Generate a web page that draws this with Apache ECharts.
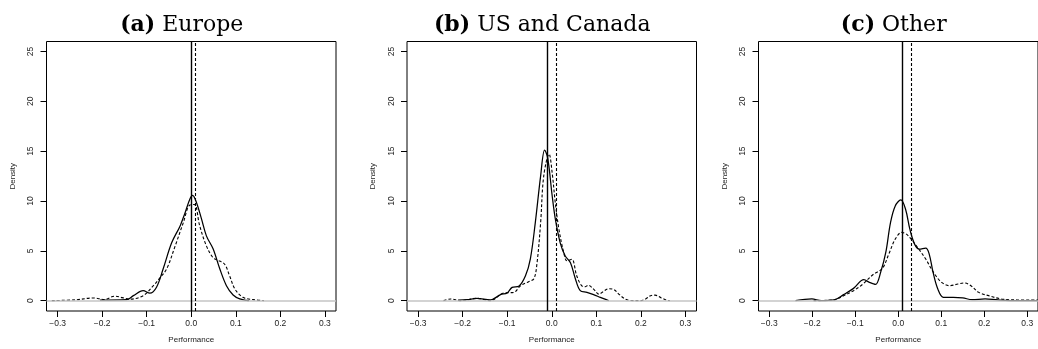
<!DOCTYPE html>
<html>
<head>
    <meta charset="utf-8">
    <title>Performance density</title>
    <script src="https://cdn.jsdelivr.net/npm/echarts@6/dist/echarts.min.js"></script>
    <style>
        html, body { margin: 0; padding: 0; background: #fff; }
        #main { width: 1038px; height: 349px; }
    </style>
</head>
<body>
<div id="main"></div>
<script>
    // tick labels
    var xTicks = [-0.3, -0.2, -0.1, 0.0, 0.1, 0.2, 0.3];
    var yTicks = [0, 5, 10, 15, 20, 25];

    var panelTags = ['(a)', '(b)', '(c)'];
    var panelNames = ['Europe', 'US and Canada', 'Other'];

    // density curves, [performance, density]
    var europeSolid = [[-0.205, 0.05], [-0.145, 0.1], [-0.13, 0.5], [-0.108, 1.0], [-0.093, 0.75], [-0.078, 1.35],
        [-0.063, 3.2], [-0.044, 5.8], [-0.025, 7.5], [-0.014, 8.8], [-0.003, 10.2], [0.003, 10.55], [0.012, 9.8],
        [0.023, 8.2], [0.034, 6.5], [0.049, 5.2], [0.064, 3.2], [0.079, 1.5], [0.094, 0.57], [0.109, 0.17],
        [0.124, 0.03], [0.13, 0.0]];
    var europeDashed = [[-0.313, 0.0], [-0.26, 0.08], [-0.22, 0.27], [-0.195, 0.12], [-0.172, 0.45], [-0.155, 0.3],
        [-0.138, 0.15], [-0.108, 0.5], [-0.085, 1.5], [-0.07, 2.3], [-0.055, 3.2], [-0.036, 5.5], [-0.018, 7.8],
        [-0.003, 9.6], [0.007, 9.65], [0.019, 7.5], [0.034, 5.5], [0.049, 4.3], [0.06, 4.05], [0.075, 3.65],
        [0.086, 2.5], [0.098, 1.17], [0.116, 0.33], [0.139, 0.1], [0.163, 0.0]];

    var usSolid = [[-0.21, 0.05], [-0.19, 0.1], [-0.168, 0.23], [-0.138, 0.07], [-0.115, 0.6], [-0.1, 0.77],
        [-0.089, 1.33], [-0.074, 1.45], [-0.059, 2.5], [-0.048, 4.2], [-0.037, 7.8], [-0.025, 12.5], [-0.016, 15.1],
        [-0.009, 14.3], [0.001, 10.5], [0.008, 8.2], [0.019, 5.8], [0.03, 4.5], [0.042, 3.8], [0.053, 2.2],
        [0.064, 1.0], [0.079, 0.83], [0.094, 0.6], [0.109, 0.33], [0.124, 0.07], [0.128, 0.0]];
    var usDashed = [[-0.243, 0.0], [-0.227, 0.17], [-0.205, 0.0], [-0.168, 0.23], [-0.138, 0.0], [-0.108, 0.77],
        [-0.085, 0.83], [-0.07, 1.5], [-0.052, 1.9], [-0.04, 2.2], [-0.033, 3.8], [-0.025, 7.8], [-0.018, 12.5],
        [-0.006, 14.7], [0.001, 12.8], [0.008, 9.8], [0.016, 7.2], [0.027, 4.8], [0.034, 4.0], [0.045, 4.15],
        [0.056, 2.5], [0.067, 1.5], [0.075, 1.4], [0.082, 1.55], [0.095, 1.1], [0.106, 0.65], [0.115, 0.9],
        [0.128, 1.2], [0.14, 1.1], [0.152, 0.6], [0.165, 0.15], [0.175, 0.02], [0.2, 0.0], [0.21, 0.15],
        [0.222, 0.5], [0.232, 0.55], [0.245, 0.3], [0.258, 0.05], [0.265, 0.0]];

    var otherSolid = [[-0.239, 0.0], [-0.201, 0.17], [-0.179, 0.0], [-0.149, 0.07], [-0.127, 0.6], [-0.104, 1.23],
        [-0.08, 2.1], [-0.067, 1.83], [-0.053, 1.63], [-0.041, 2.83], [-0.029, 4.83], [-0.018, 7.83], [-0.007, 9.5],
        [0.006, 10.1], [0.017, 9.17], [0.027, 7.17], [0.038, 5.67], [0.049, 5.17], [0.064, 5.27], [0.072, 4.67],
        [0.081, 2.83], [0.092, 1.17], [0.105, 0.33], [0.128, 0.33], [0.15, 0.27], [0.172, 0.1], [0.202, 0.17],
        [0.232, 0.07], [0.277, 0.0], [0.33, 0.0]];
    var otherDashed = [[-0.197, 0.0], [-0.149, 0.07], [-0.127, 0.5], [-0.104, 1.0], [-0.082, 1.67], [-0.059, 2.6],
        [-0.037, 3.23], [-0.022, 4.67], [-0.007, 6.17], [0.008, 6.85], [0.019, 6.67], [0.03, 6.17], [0.045, 5.33],
        [0.064, 4.17], [0.082, 2.83], [0.101, 1.83], [0.12, 1.5], [0.139, 1.67], [0.154, 1.77], [0.169, 1.5],
        [0.187, 0.83], [0.21, 0.5], [0.24, 0.17], [0.277, 0.07], [0.33, 0.05]];

    // vertical reference lines [solid, dashed]
    var europeLines = [-0.0005, 0.005];
    var usLines = [-0.014, 0.007];
    var otherLines = [0.013, 0.031];

    var solids = [europeSolid, usSolid, otherSolid];
    var dasheds = [europeDashed, usDashed, otherDashed];
    var vlines = [europeLines, usLines, otherLines];

    var gridLefts = [46.5, 407, 758.5];
    var gridWidth = 289.5;
    var labelFont = 'Liberation Sans';

    var grids = [], xAxes = [], yAxes = [], series = [], graphics = [];

    function fmtX(v) {
        return (v < 0 ? '\u2212' : '') + Math.abs(v).toFixed(1);
    }

    for (var i = 0; i < 3; i++) {
        grids.push({
            left: gridLefts[i], top: 41.5, width: gridWidth, height: 270.5,
            show: true, borderColor: '#000', borderWidth: 1, backgroundColor: 'transparent'
        });
        xAxes.push({
            type: 'value', gridIndex: i, min: -0.325, max: 0.325, position: 'bottom',
            name: 'Performance', nameLocation: 'middle', nameGap: 25,
            nameTextStyle: {fontFamily: labelFont, fontSize: 8, color: '#222'},
            axisLine: {show: false, onZero: false},
            splitLine: {show: false},
            axisTick: {show: true, inside: false, length: 6, customValues: xTicks, lineStyle: {color: '#000', width: 1}},
            axisLabel: {
                customValues: xTicks, formatter: fmtX, margin: 8,
                fontFamily: labelFont, fontSize: 8.5, color: '#222'
            }
        });
        yAxes.push({
            type: 'value', gridIndex: i, min: -1.04, max: 26, position: 'left',
            name: 'Density', nameLocation: 'middle', nameGap: 30,
            nameTextStyle: {fontFamily: labelFont, fontSize: 8, color: '#222'},
            axisLine: {show: false, onZero: false},
            splitLine: {show: false},
            axisTick: {show: true, inside: false, length: 6, customValues: yTicks, lineStyle: {color: '#000', width: 1}},
            axisLabel: {
                customValues: yTicks, rotate: 90, margin: 11,
                fontFamily: labelFont, fontSize: 8.5, color: '#222'
            }
        });
        series.push({
            type: 'line', xAxisIndex: i, yAxisIndex: i, data: solids[i],
            smooth: 0.35, showSymbol: false, z: 3,
            lineStyle: {color: '#000', width: 1.25},
            markLine: {
                silent: true, symbol: ['none', 'none'], label: {show: false},
                data: [
                    {yAxis: 0, lineStyle: {color: '#c4c4c4', width: 1.5, type: 'solid'}},
                    {xAxis: vlines[i][0], lineStyle: {color: '#000', width: 1.4, type: 'solid'}}
                ]
            }
        });
        series.push({
            type: 'line', xAxisIndex: i, yAxisIndex: i, data: dasheds[i],
            smooth: 0.35, showSymbol: false, z: 3,
            lineStyle: {color: '#000', width: 1.1, type: [3, 2]},
            markLine: {
                silent: true, symbol: ['none', 'none'], label: {show: false},
                data: [
                    {xAxis: vlines[i][1], lineStyle: {color: '#000', width: 1.1, type: [3, 2]}}
                ]
            }
        });
        graphics.push({
            type: 'text', x: gridLefts[i] + gridWidth / 2 - 9.5, y: 25,
            style: {
                text: '{b|' + panelTags[i] + '} ' + panelNames[i],
                fontFamily: 'DejaVu Serif', fontSize: 22, fill: '#000',
                align: 'center', verticalAlign: 'middle',
                rich: {b: {fontFamily: 'DejaVu Serif', fontSize: 22, fontWeight: 'bold', fill: '#000'}}
            }
        });
    }

    var myChart = echarts.init(document.getElementById('main'));
    myChart.setOption({
        animation: false,
        grid: grids,
        xAxis: xAxes,
        yAxis: yAxes,
        series: series,
        graphic: graphics
    });
</script>
</body>
</html>
